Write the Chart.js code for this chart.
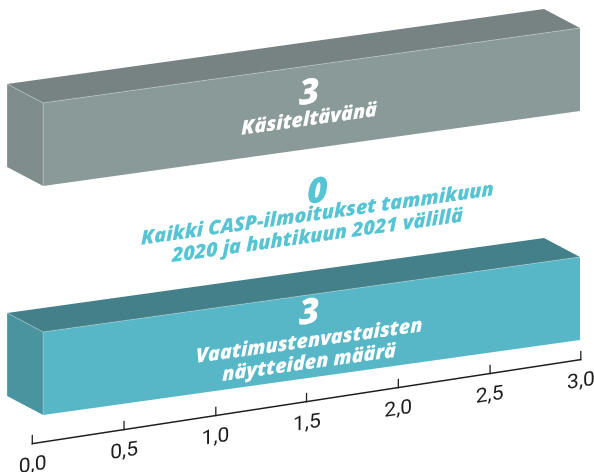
<!DOCTYPE html>
<html>
<head>
<meta charset="utf-8">
<style>
    html, body { margin: 0; padding: 0; background: #fff; }
    canvas { display: block; }
</style>
<script src="https://cdn.jsdelivr.net/npm/chart.js@4"></script>
</head>
<body>
<canvas id="chart" width="594" height="472"></canvas>
<script>
const categories = ['Käsiteltävänä', 'Kaikki CASP-ilmoitukset tammikuun 2020 ja huhtikuun 2021 välillä', 'Vaatimustenvastaisten näytteiden määrä'];
const values = [3, 0, 3];
const labelLines = [
    ['Käsiteltävänä'],
    ['Kaikki CASP-ilmoitukset tammikuun', '2020 ja huhtikuun 2021 välillä'],
    ['Vaatimustenvastaisten', 'näytteiden määrä']
];
const xTicks = [0, 0.5, 1, 1.5, 2, 2.5, 3];

const frontColors = ['#8a9a99', '#57c4d3', '#57b7c7'];
const topColors = ['#768382', '#43808a', '#43808a'];
const sideColors = ['#7f8e8d', '#4a949f', '#4a949f'];
const textColors = ['#ffffff', '#57c4d3', '#ffffff'];

// where the chart area ends up on the page
const barPlane = { tl: [42.5, 87.25], tr: [580, 12.25], bl: [42.5, 430.75] };
const axisPlane = { start: [32.7, 443.3], end: [581, 359.3] };
const depth = [-36, -19];

// text block per row, relative to the middle of the bar
const rowNumberY = [-13, -27, -22];
const rowLineY = [12, -6, 5];
const rowShiftX = [-2, 6, -2];

function planeMatrix(area, tl, tr, bl) {
    const w = area.right - area.left;
    const h = area.bottom - area.top;
    const a = (tr[0] - tl[0]) / w;
    const b = (tr[1] - tl[1]) / w;
    const c = (bl[0] - tl[0]) / h;
    const d = (bl[1] - tl[1]) / h;
    return [a, b, c, d, tl[0] - a * area.left - c * area.top, tl[1] - b * area.left - d * area.top];
}

function barMatrix(chart) {
    return planeMatrix(chart.chartArea, barPlane.tl, barPlane.tr, barPlane.bl);
}

function axisMatrix(chart) {
    const area = chart.chartArea;
    const h = area.bottom - area.top;
    const s = axisPlane.start, e = axisPlane.end;
    return planeMatrix(area, [s[0], s[1] - h], [e[0], e[1] - h], s);
}

function project(m, x, y) {
    return [m[0] * x + m[2] * y + m[4], m[1] * x + m[3] * y + m[5]];
}

function fillFace(ctx, pts, color) {
    ctx.beginPath();
    pts.forEach((p, i) => i ? ctx.lineTo(p[0], p[1]) : ctx.moveTo(p[0], p[1]));
    ctx.closePath();
    ctx.fillStyle = color;
    ctx.fill();
}

function edge(ctx, p, q) {
    ctx.beginPath();
    ctx.moveTo(p[0], p[1]);
    ctx.lineTo(q[0], q[1]);
    ctx.strokeStyle = 'rgba(255,255,255,0.45)';
    ctx.lineWidth = 0.6;
    ctx.stroke();
}

const skewPlugin = {
    id: 'skew',
    beforeDraw(chart) {
        // scales are drawn first, on the axis plane
        chart.ctx.save();
        chart.ctx.transform(...axisMatrix(chart));
    },
    beforeDatasetsDraw(chart) {
        chart.ctx.restore();
        chart.ctx.save();
        chart.ctx.transform(...barMatrix(chart));
    },
    afterDatasetsDraw(chart) {
        const ctx = chart.ctx;
        ctx.restore();
        const m = barMatrix(chart);
        const bars = chart.getDatasetMeta(0).data;

        // top and left faces
        bars.forEach((bar, i) => {
            if (!values[i]) return;
            const p = bar.getProps(['x', 'y', 'base', 'height'], true);
            const fl = project(m, p.base, p.y - p.height / 2);
            const fr = project(m, p.x, p.y - p.height / 2);
            const bl = project(m, p.base, p.y + p.height / 2);
            const off = q => [q[0] + depth[0], q[1] + depth[1]];
            fillFace(ctx, [off(fl), off(fr), fr, fl], topColors[i]);
            fillFace(ctx, [off(fl), fl, bl, off(bl)], sideColors[i]);
            edge(ctx, off(fl), fl);
            edge(ctx, fl, fr);
            edge(ctx, fl, bl);
        });

        // numbers and labels, in the plane of the bars
        ctx.save();
        ctx.transform(...m);
        const cx = chart.scales.x.getPixelForValue(1.5);
        ctx.textAlign = 'center';
        ctx.textBaseline = 'middle';
        bars.forEach((bar, i) => {
            const y = bar.getProps(['y'], true).y;
            const x = cx + rowShiftX[i];
            ctx.fillStyle = textColors[i];
            ctx.font = 'italic 800 34px "Open Sans"';
            ctx.fillText(String(values[i]), x, y + rowNumberY[i]);
            ctx.font = 'italic 800 19px "Open Sans"';
            labelLines[i].forEach((line, j) => {
                ctx.fillText(line, x, y + rowLineY[i] + j * 21);
            });
        });
        ctx.restore();
    }
};

new Chart(document.getElementById('chart'), {
    type: 'bar',
    data: {
        labels: categories,
        datasets: [{
            data: values,
            backgroundColor: frontColors,
            borderWidth: 0,
            barPercentage: 0.725,
            categoryPercentage: 1,
            clip: false
        }]
    },
    plugins: [skewPlugin],
    options: {
        indexAxis: 'y',
        responsive: false,
        animation: false,
        layout: {
            padding: { left: 42, right: 14, top: 87, bottom: 0 }
        },
        plugins: {
            legend: { display: false },
            tooltip: { enabled: false }
        },
        scales: {
            y: { display: false },
            x: {
                min: 0,
                max: 3,
                afterBuildTicks: axis => {
                    axis.ticks = xTicks.map(v => ({ value: v }));
                },
                border: { display: true, color: '#1d1d1b', width: 1.5 },
                grid: {
                    drawOnChartArea: false,
                    drawTicks: true,
                    tickLength: -8.5,
                    color: '#1d1d1b',
                    lineWidth: 1.2
                },
                ticks: {
                    color: '#1d1d1b',
                    padding: 19,
                    maxRotation: 0,
                    font: { family: 'Roboto', size: 20, weight: '400' },
                    callback: v => v.toFixed(1).replace('.', ',')
                }
            }
        }
    }
});
</script>
</body>
</html>
